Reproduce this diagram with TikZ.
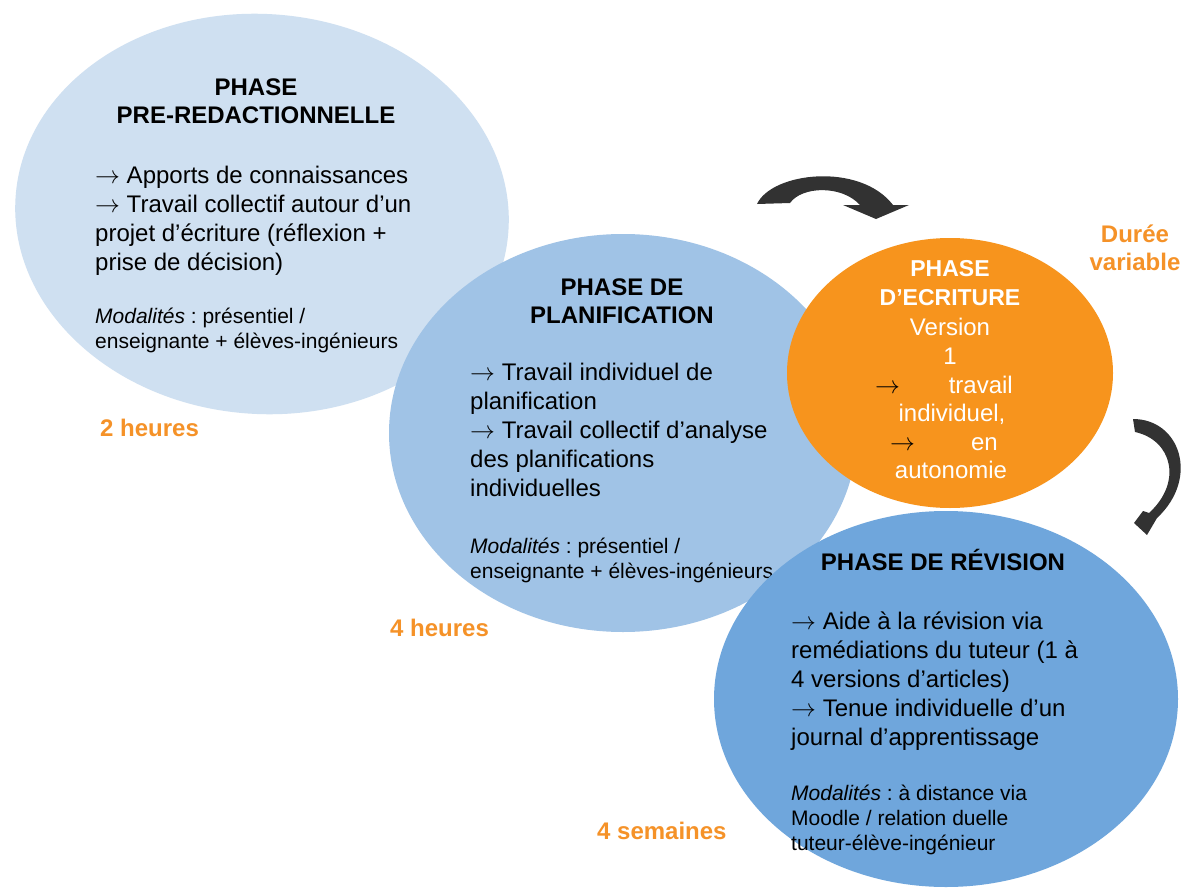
\documentclass[tikz,border=0pt]{standalone}
\usepackage{fontspec}
\setmainfont{Liberation Sans}
\usetikzlibrary{shapes.geometric}
\definecolor{lightb}{RGB}{207,224,241}
\definecolor{midb}{RGB}{160,195,230}
\definecolor{darkb}{RGB}{111,166,220}
\definecolor{orng}{RGB}{247,148,29}
\definecolor{otext}{RGB}{245,146,40}
\definecolor{arrowc}{RGB}{50,50,50}
\newcommand\rarr{\ensuremath{\rightarrow}}
\frenchspacing
\begin{document}
\begin{tikzpicture}[x=1pt,y=-1pt,
  phase/.style={ellipse, draw=none, inner sep=0, outer sep=0},
  ttl/.style={font=\fontsize{24}{28}\selectfont\bfseries, align=center, anchor=base, inner sep=0},
  body/.style={font=\fontsize{24}{29}\selectfont, align=left, anchor=base west, inner sep=0},
  modal/.style={font=\fontsize{21}{25}\selectfont, align=left, anchor=base west, inner sep=0},
  dur/.style={font=\fontsize{24}{28}\selectfont\bfseries, text=otext, inner sep=0},
  wtxt/.style={font=\fontsize{24}{28}\selectfont, text=white, inner sep=0},
  bendarrow/.style={fill=arrowc}
]
\useasboundingbox[fill=white] (0,0) rectangle (1192,888);

% ---- phase 1 (multi-line nodes: base anchor = baseline of last line)
\node[phase, fill=lightb, minimum width=494pt, minimum height=400pt, rotate=-4] (e1) at (262,214) {};
\node[ttl] (t1) at (256,124) {PHASE\\PRE-REDACTIONNELLE};
\node[body] (b1) at (95,270) {\rarr{} Apports de connaissances\\\rarr{} Travail collectif autour d’un\\projet d’écriture (réflexion +\\prise de décision)};
\node[modal] (m1) at (95,348) {\textit{Modalités} : présentiel /\\enseignante + élèves-ingénieurs};
\node[dur, anchor=base west] (d1) at (100,436) {2 heures};

% ---- phase 2
\node[phase, fill=midb, minimum width=468pt, minimum height=398pt] (e2) at (623,433) {};
\node[ttl] (t2) at (622,323) {PHASE DE\\PLANIFICATION};
\node[body] (b2) at (470,496) {\rarr{} Travail individuel de\\planification\\\rarr{} Travail collectif d’analyse\\des planifications\\individuelles};
\node[modal] (m2) at (470,578) {\textit{Modalités} : présentiel /\\enseignante + élèves-ingénieurs};
\node[dur, anchor=base west] (d2) at (390,636) {4 heures};

% ---- phase 4 (revision)
\node[phase, fill=darkb, minimum width=464pt, minimum height=376pt] (e4) at (946,699) {};
\node[ttl] (t4) at (943,570) {PHASE DE RÉVISION};
\node[body] (b4) at (791,745) {\rarr{} Aide à la révision via\\remédiations du tuteur (1 à\\4 versions d’articles)\\\rarr{} Tenue individuelle d’un\\journal d’apprentissage};
\node[modal] (m4) at (791,850) {\textit{Modalités} : à distance via\\Moodle / relation duelle\\tuteur-élève-ingénieur};
\node[dur, anchor=base west] (d4) at (597,839) {4 semaines};

% ---- phase 3 (ecriture)
\node[phase, fill=orng, minimum width=326pt, minimum height=270pt] (e3) at (950,373) {};
\node[ttl, text=white, font=\fontsize{23}{29}\selectfont\bfseries] (t3) at (950,305) {PHASE\\D’ECRITURE};
\node[wtxt, anchor=base] (v1) at (950,335) {Version};
\node[wtxt, anchor=base] (v2) at (950,364) {1};
\node[wtxt, anchor=base west, text=black] (a1) at (875,393) {\rarr};
\node[wtxt, anchor=base east] (v3) at (1013,393) {travail};
\node[wtxt, anchor=base] (v4) at (952,421) {individuel,};
\node[wtxt, anchor=base west, text=black] (a2) at (890,450) {\rarr};
\node[wtxt, anchor=base east] (v5) at (998,450) {en};
\node[wtxt, anchor=base] (v6) at (951,478) {autonomie};

\node[dur, align=center, anchor=base] (d3) at (1135,270) {Durée\\variable};

% ---- curved arrows
\fill[bendarrow] (757,204) .. controls (772,172) and (860,162) .. (893,205)
  -- (909,205) -- (876,219) -- (843,205) -- (860,205)
  .. controls (842,185) and (802,186) .. (790,203) -- cycle;
\fill[bendarrow] (1133,419) .. controls (1180,419) and (1200,478) .. (1157,518)
  -- (1147,535) -- (1134,523) -- (1143,511) -- (1149,513)
  .. controls (1183,482) and (1172,440) .. (1135,432) -- cycle;
\end{tikzpicture}
\end{document}
